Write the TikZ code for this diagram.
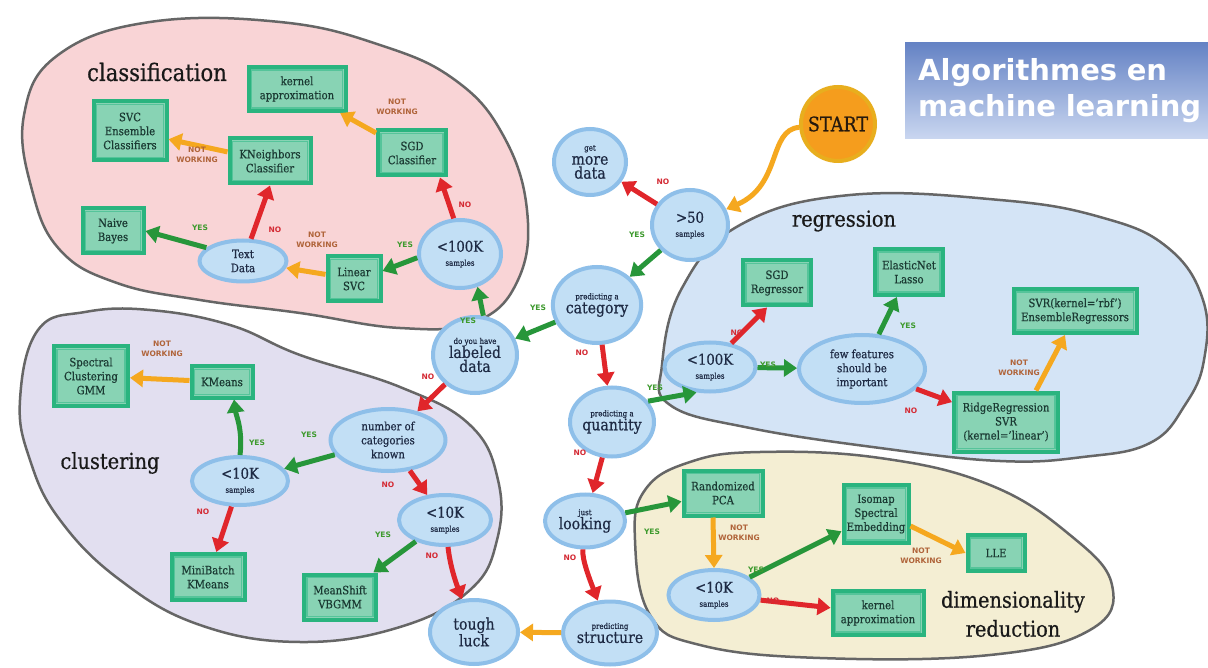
\documentclass[tikz,border=0pt]{standalone}
\usepackage{fontspec}
\setmainfont{DejaVu Serif}[FakeStretch=0.88,FakeBold=0.6]
\newfontfamily\labfont{DejaVu Sans}
\usetikzlibrary{arrows.meta,shapes.geometric}
\definecolor{ringblue}{HTML}{8EBFE9}
\definecolor{fillblue}{HTML}{C2DFF5}
\definecolor{navy}{HTML}{1E2A44}
\definecolor{boxgreen}{HTML}{2AB47F}
\definecolor{boxinner}{HTML}{55C49A}
\definecolor{boxfill}{HTML}{88D3B4}
\definecolor{boxtext}{HTML}{1B3A33}
\definecolor{argreen}{HTML}{27963A}
\definecolor{arred}{HTML}{E0262B}
\definecolor{arorange}{HTML}{F5A81F}
\definecolor{yestext}{HTML}{3E9A2E}
\definecolor{notext}{HTML}{D42A34}
\definecolor{nwtext}{HTML}{B0643A}
\definecolor{pinkbg}{HTML}{F9D4D6}
\definecolor{purplebg}{HTML}{E2DFF0}
\definecolor{bluebg}{HTML}{D4E4F6}
\definecolor{yellowbg}{HTML}{F4EED3}
\definecolor{blobline}{HTML}{666666}
\definecolor{titletop}{HTML}{6482C4}
\definecolor{titlebot}{HTML}{C9D6F0}
\definecolor{startfill}{HTML}{F59D1D}
\definecolor{startring}{HTML}{E8AE1E}
\newcommand\dbig{\fontsize{16}{17}\selectfont}
\newcommand\dnum{\fontsize{15}{16}\selectfont}
\newcommand\dsml{\fontsize{8}{9}\selectfont}
\begin{document}
\begin{tikzpicture}[x=1pt,y=-1pt,
  dec/.style={ellipse, draw=ringblue, line width=4pt, fill=fillblue, inner sep=0pt, align=center, text=navy, font=\fontsize{11.5}{14}\selectfont},
  algo/.style={rectangle, draw=boxgreen, line width=4pt, fill=boxfill, inner sep=0pt, align=center, text=boxtext, font=\fontsize{11.5}{14}\selectfont,
    path picture={\draw[boxinner, line width=1.5pt] ([shift={(3pt,-3pt)}]path picture bounding box.north west) rectangle ([shift={(-3pt,3pt)}]path picture bounding box.south east);}},
  blob/.style={draw=blobline, line width=2.5pt},
  arr/.style={line width=5pt, -{Triangle[length=13pt,width=17pt]}},
  yesarr/.style={arr, draw=argreen},
  noarr/.style={arr, draw=arred},
  nwarr/.style={arr, draw=arorange},
  lab/.style={font=\labfont\bfseries\fontsize{7.5}{10}\selectfont, align=center, inner sep=0pt},
  yeslab/.style={lab, text=yestext},
  nolab/.style={lab, text=notext},
  nwlab/.style={lab, text=nwtext},
  region/.style={font=\fontsize{22}{29}\selectfont, text=black!90, align=center, inner sep=0pt}
]
\useasboundingbox (0,0) rectangle (1208,668);
\fill[white] (0,0) rectangle (1208,668);

% regions
\path[blob, fill=pinkbg] plot[smooth cycle, tension=0.7] coordinates {(24,115) (58,55) (150,22) (280,22) (380,45) (455,80) (503,135) (527,210) (518,280) (475,322) (400,328) (300,313) (200,300) (117,283) (60,250) (32,190)};
\path[blob, fill=purplebg] plot[smooth cycle, tension=0.7] coordinates {(20,400) (38,330) (85,312) (150,310) (230,325) (300,355) (400,387) (470,425) (498,480) (497,540) (470,590) (400,627) (300,642) (200,625) (120,580) (60,520) (30,460)};
\path[blob, fill=bluebg] plot[smooth cycle, tension=0.7] coordinates {(662,365) (682,288) (740,225) (850,195) (1000,200) (1100,217) (1167,247) (1203,300) (1204,360) (1185,405) (1150,443) (1083,457) (1000,461) (880,448) (750,428) (670,405)};
\path[blob, fill=yellowbg] plot[smooth cycle, tension=0.7] coordinates {(635,540) (645,490) (690,462) (760,452) (880,458) (990,485) (1070,535) (1112,585) (1090,630) (990,655) (820,658) (700,645) (650,615)};

% title
\node[anchor=north west, text width=290pt, minimum height=96pt, top color=titletop, bottom color=titlebot, inner xsep=13pt, inner ysep=0pt, align=left, text=white, font=\labfont\bfseries\fontsize{29}{36}\selectfont] (title) at (905,42) {Algorithmes en\\machine learning};

% region labels
\node[region, font=\fontsize{24}{29}\selectfont] (rclass) at (157,72) {classification};
\node[region] (rreg) at (844,221) {regression};
\node[region] (rclus) at (110,463) {clustering};
\node[region] (rdim) at (1013,614) {dimensionality\\reduction};

% centre nodes
\node[circle, draw=startring, line width=4pt, fill=startfill, minimum size=74pt, inner sep=0pt, text=black!80!brown, font=\fontsize{20}{22}\selectfont] (start) at (838,124) {START};
\node[dec, minimum width=72pt, minimum height=66pt] (more) at (590,162) {\dsml get\\\dbig more\\\dbig data};
\node[dec, minimum width=76pt, minimum height=70pt] (s50) at (690,225) {\dnum >50\\\dsml samples};
\node[dec, minimum width=85pt, minimum height=76pt] (cat) at (597,305) {\dsml predicting a\\\dbig category};
\node[dec, minimum width=84pt, minimum height=76pt] (lab) at (475,355) {\dsml do you have\\\dbig labeled\\\dbig data};
\node[dec, minimum width=84pt, minimum height=69pt] (quant) at (612,422) {\dsml predicting a\\\dbig quantity};
\node[dec, minimum width=80pt, minimum height=53pt] (look) at (585,521) {\dsml just\\\dbig looking};
\node[dec, minimum width=90pt, minimum height=63pt] (struct) at (610,633) {\dsml predicting\\\dbig structure};
\node[dec, minimum width=88pt, minimum height=64pt] (tough) at (474,632) {\dbig tough\\\dbig luck};

% classification
\node[dec, minimum width=82pt, minimum height=68pt] (cl100) at (460,254) {\dnum <100K\\\dsml samples};
\node[dec, minimum width=87pt, minimum height=41pt] (text) at (243,261) {Text\\Data};
\node[algo, minimum width=97pt, minimum height=44pt] (kern1) at (297,89) {kernel\\approximation};
\node[algo, minimum width=73pt, minimum height=59pt] (svc) at (130,131) {SVC\\Ensemble\\Classifiers};
\node[algo, minimum width=81pt, minimum height=45pt] (kn) at (270,161) {KNeighbors\\Classifier};
\node[algo, minimum width=68pt, minimum height=45pt] (sgdc) at (412,153) {SGD\\Classifier};
\node[algo, minimum width=61pt, minimum height=45pt] (nb) at (113,231) {Naive\\Bayes};
\node[algo, minimum width=53pt, minimum height=45pt] (lsvc) at (354,279) {Linear\\SVC};

% clustering
\node[dec, minimum width=115pt, minimum height=62pt] (ncat) at (388,440) {number of\\categories\\known};
\node[dec, minimum width=96pt, minimum height=48pt] (c10a) at (240,481) {\dnum <10K\\\dsml samples};
\node[dec, minimum width=92pt, minimum height=50pt] (c10b) at (445,520) {\dnum <10K\\\dsml samples};
\node[algo, minimum width=61pt, minimum height=31pt] (km) at (222,382) {KMeans};
\node[algo, minimum width=74pt, minimum height=59pt] (spec) at (91,376) {Spectral\\Clustering\\GMM};
\node[algo, minimum width=73pt, minimum height=46pt] (mbk) at (208,577) {MiniBatch\\KMeans};
\node[algo, minimum width=72pt, minimum height=45pt] (ms) at (340,597) {MeanShift\\VBGMM};

% regression
\node[dec, minimum width=91pt, minimum height=49pt] (r100) at (710,367) {\dnum <100K\\\dsml samples};
\node[dec, minimum width=126pt, minimum height=68pt] (few) at (862,369) {few features\\should be\\important};
\node[algo, minimum width=68pt, minimum height=45pt] (sgdr) at (777,283) {SGD\\Regressor};
\node[algo, minimum width=68pt, minimum height=46pt] (enet) at (909,272) {ElasticNet\\Lasso};
\node[algo, minimum width=123pt, minimum height=44pt] (svr) at (1075,311) {SVR(kernel='rbf')\\EnsembleRegressors};
\node[algo, minimum width=104pt, minimum height=59pt] (ridge) at (1006,422) {RidgeRegression\\SVR\\(kernel='linear')};

% dimensionality reduction
\node[algo, minimum width=79pt, minimum height=45pt] (rpca) at (723,493) {Randomized\\PCA};
\node[algo, minimum width=65pt, minimum height=58pt] (iso) at (876,514) {Isomap\\Spectral\\Embedding};
\node[algo, minimum width=57pt, minimum height=36pt] (lle) at (996,553) {LLE};
\node[dec, minimum width=91pt, minimum height=50pt] (d10) at (714,595) {\dnum <10K\\\dsml samples};
\node[algo, minimum width=91pt, minimum height=44pt] (kern2) at (878,613) {kernel\\approximation};

% connectors: centre
\draw[nwarr] (start) .. controls (768,130) and (782,185) .. (s50);
\draw[noarr] (s50) -- (more);
\draw[yesarr] (s50) -- (cat);
\draw[yesarr] (cat) -- (lab);
\draw[yesarr] (lab.78) -- (cl100.-62);
\draw[noarr] (lab) -- (ncat);
\draw[noarr] (cat) -- (quant);
\draw[yesarr] (quant.30) -- (r100.242);
\draw[noarr] (quant) -- (look);
\draw[noarr] (look) .. controls (582,560) and (590,580) .. (struct);
\draw[nwarr] (struct) -- (tough);
\draw[yesarr] (look) -- (rpca);

% connectors: classification
\draw[nwarr] (sgdc) -- (kern1);
\draw[nwarr] (kn) -- (svc);
\draw[noarr] (text.70) -- (kn.south);
\draw[yesarr] (text.160) -- (nb.east);
\draw[nwarr] (lsvc) -- (text);
\draw[yesarr] (cl100.185) -- ([yshift=8pt]lsvc.east);
\draw[noarr] (cl100.100) -- ([xshift=-8pt]sgdc.south east);

% connectors: clustering
\draw[yesarr] (c10a.north) .. controls (243,430) and (236,415) .. ([xshift=12pt]km.south);
\draw[yesarr] (ncat) -- (c10a);
\draw[nwarr] (km) -- (spec);
\draw[noarr] (c10a) -- (mbk);
\draw[noarr] (ncat) -- (c10b);
\draw[yesarr] (c10b) -- (ms);
\draw[noarr] (c10b) .. controls (450,565) and (455,580) .. (tough);

% connectors: regression
\draw[noarr] (r100.48) -- ([xshift=-10pt]sgdr.south);
\draw[yesarr] (r100) -- (few);
\draw[yesarr] (few) -- (enet);
\draw[noarr] (few) -- (ridge);
\draw[nwarr] ([xshift=30pt]ridge.north) -- ([xshift=-10pt]svr.south);

% connectors: dimensionality reduction
\draw[nwarr] ([xshift=-10pt]rpca.south) -- (d10.north);
\draw[yesarr] (d10) -- (iso);
\draw[noarr] (d10) -- (kern2);
\draw[nwarr] ([yshift=-12pt]iso.east) -- (lle.west);

% labels
\node[nwlab] (l1) at (397,107) {NOT\\WORKING};
\node[nwlab] (l2) at (197,155) {NOT\\WORKING};
\node[nolab] (l3) at (275,230) {NO};
\node[yeslab] (l4) at (200,228) {YES};
\node[nwlab] (l5) at (317,240) {NOT\\WORKING};
\node[yeslab] (l6) at (405,245) {YES};
\node[nolab] (l7) at (465,205) {NO};
\node[nolab] (l9) at (663,182) {NO};
\node[yeslab] (l10) at (637,235) {YES};
\node[yeslab] (l11) at (538,308) {YES};
\node[yeslab] (l12) at (468,321) {YES};
\node[nolab] (l13) at (428,377) {NO};
\node[nolab] (l14) at (582,353) {NO};
\node[yeslab] (l15) at (655,388) {YES};
\node[nolab] (l16) at (580,453) {NO};
\node[nolab] (l17) at (570,558) {NO};
\node[yeslab] (l19) at (652,532) {YES};
\node[yeslab] (l20) at (309,435) {YES};
\node[yeslab] (l21) at (257,443) {YES};
\node[nwlab] (l22) at (162,349) {NOT\\WORKING};
\node[nolab] (l23) at (203,512) {NO};
\node[nolab] (l24) at (388,485) {NO};
\node[yeslab] (l25) at (383,535) {YES};
\node[nolab] (l26) at (432,556) {NO};
\node[nolab] (l27) at (737,333) {NO};
\node[yeslab] (l28) at (768,365) {YES};
\node[yeslab] (l29) at (908,326) {YES};
\node[nolab] (l30) at (911,411) {NO};
\node[nwlab] (l31) at (1019,368) {NOT\\WORKING};
\node[nwlab] (l32) at (739,533) {NOT\\WORKING};
\node[yeslab] (l33) at (756,570) {YES};
\node[nolab] (l34) at (773,601) {NO};
\node[nwlab] (l35) at (921,556) {NOT\\WORKING};
\end{tikzpicture}
\end{document}
